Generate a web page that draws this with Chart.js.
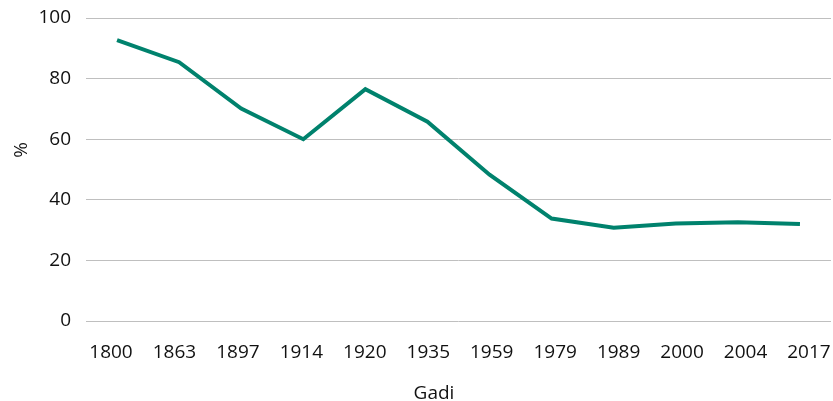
<!DOCTYPE html>
<html>
<head>
<meta charset="utf-8">
<script src="https://cdn.jsdelivr.net/npm/chart.js@4/dist/chart.umd.min.js"></script>
<style>
  html, body { margin: 0; padding: 0; background: #fff; }
  #wrap { width: 833px; height: 401px; position: relative; }
</style>
</head>
<body>
<div id="wrap"><canvas id="chart"></canvas></div>
<script>
  // years on the x axis
  const years = ['1800', '1863', '1897', '1914', '1920', '1935', '1959', '1979', '1989', '2000', '2004', '2017'];
  // share in %
  const shareValues = [92.7, 85.4, 70.1, 60.0, 76.5, 65.8, 48.3, 33.8, 30.8, 32.2, 32.6, 32.0];
  const yTicks = [0, 20, 40, 60, 80, 100];

  const FONT = "'Open Sans', 'Noto Sans', sans-serif";
  Chart.defaults.font.family = FONT;
  Chart.defaults.font.size = 19;
  Chart.defaults.color = '#111';

  // axis titles sit off the plot centre in the source, so place them by hand
  const axisTitles = {
    id: 'axisTitles',
    afterDraw(chart) {
      const ctx = chart.ctx;
      ctx.save();
      ctx.font = '19px ' + FONT;
      ctx.fillStyle = '#111';
      ctx.textAlign = 'center';
      ctx.textBaseline = 'alphabetic';
      ctx.fillText('Gadi', 434, 399);
      ctx.translate(27, 150);
      ctx.rotate(-Math.PI / 2);
      ctx.fillText('%', 0, 0);
      ctx.restore();
    }
  };

  new Chart(document.getElementById('chart'), {
    type: 'line',
    data: {
      labels: years,
      datasets: [{
        label: '%',
        data: shareValues,
        borderColor: '#00826d',
        borderWidth: 4,
        fill: false,
        pointRadius: 0,
        tension: 0,
        xAxisID: 'x'
      }]
    },
    options: {
      responsive: true,
      maintainAspectRatio: false,
      animation: false,
      layout: { padding: { left: 0, right: 2, top: 18, bottom: 0 } },
      plugins: { legend: { display: false }, tooltip: { enabled: false } },
      scales: {
        x: {
          offset: true,
          display: false
        },
        // year labels are spread a little wider than the points, as in the source
        xl: {
          type: 'linear',
          position: 'bottom',
          min: -0.394,
          max: 11.347,
          afterBuildTicks: (axis) => { axis.ticks = years.map((y, i) => ({ value: i })); },
          grid: { display: false },
          border: { display: false },
          ticks: { padding: 12, maxRotation: 0, autoSkip: false, callback: (v) => years[v] },
          afterFit: (axis) => { axis.height = 80; axis.paddingLeft = 0; axis.paddingRight = 0; }
        },
        y: {
          min: 0,
          max: 100,
          afterBuildTicks: (axis) => { axis.ticks = yTicks.map(v => ({ value: v })); },
          grid: { color: '#bfbfbf', lineWidth: 1, drawTicks: false },
          border: { display: false },
          ticks: { padding: 15 },
          afterFit: (axis) => { axis.width = 86; axis.paddingTop = 0; axis.paddingBottom = 0; }
        }
      }
    },
    plugins: [axisTitles]
  });
</script>
</body>
</html>
